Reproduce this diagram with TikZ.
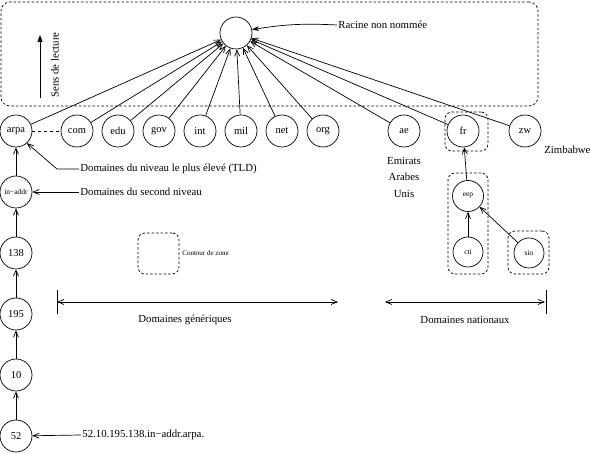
\documentclass[tikz,border=0pt]{standalone}
\usepackage{fontspec}
\setmainfont{Liberation Serif}
\usetikzlibrary{arrows.meta}
\begin{document}
\begin{tikzpicture}[x=1pt,y=-1pt,line width=0.7pt,
  dom/.style={circle,draw,minimum size=32pt,inner sep=0pt,font=\fontsize{10.5}{12}\selectfont},
  smalldom/.style={dom,font=\fontsize{7.5}{8}\selectfont},
  lbl/.style={inner sep=1pt,font=\fontsize{10.8}{13}\selectfont},
  tinylbl/.style={inner sep=1pt,font=\fontsize{7}{8}\selectfont},
  zone/.style={draw,dash pattern=on 2.5pt off 2pt,rounded corners=7pt,inner sep=0pt},
  tip/.style={-{Straight Barb[length=6pt,width=5pt]}},
  dim/.style={{Straight Barb[length=6pt,width=5pt]}-{Straight Barb[length=6pt,width=5pt]}}
]
\useasboundingbox (0,0) rectangle (590,454);
% top zone
\node[zone,minimum width=537pt,minimum height=104pt,rounded corners=9pt] (topz) at (269.5,54) {};
\node[dom] (root) at (236,33) {};
\node[lbl,anchor=west] (rlab) at (337,25) {Racine non nommée};
\draw[-{Stealth[length=7pt,width=5pt]}] (rlab.west) to[bend right=6] (root.12);
% sens de lecture
\coordinate (s1) at (40,98);
\coordinate (s2) at (40,35);
\draw[-{Triangle[length=7pt,width=5pt]}] (s1) -- (s2);
\node[lbl,rotate=90] (sens) at (55,65) {Sens de lecture};
% top-level domains
\node[dom] (arpa) at (16,131) {arpa};
\node[dom] (com) at (77,131) {com};
\node[dom] (edu) at (118,131) {edu};
\node[dom] (gov) at (159,131) {gov};
\node[dom] (int) at (200,131) {int};
\node[dom] (mil) at (241,131) {mil};
\node[dom] (net) at (282,131) {net};
\node[dom] (org) at (323,131) {org};
\node[dom] (ae) at (404,131) {ae};
\node[dom] (fr) at (463,131) {fr};
\node[dom] (zw) at (525,131) {zw};
\foreach \n in {arpa,com,edu,gov,int,mil,net,org,ae,fr,zw}
  \draw[tip] (\n) -- (root);
\draw[dash pattern=on 3pt off 3pt] (arpa) -- (com);
\node[zone,minimum width=43pt,minimum height=39pt] (frz) at (466.5,131.5) {};
\node[lbl,anchor=west] (zim) at (543,150) {Zimbabwe};
\node[lbl] (em) at (404,161) {Emirats};
\node[lbl] (ar) at (404,177) {Arabes};
\node[lbl] (un) at (404,194) {Unis};
% reverse chain
\node[smalldom] (inaddr) at (16,192) {in−addr};
\node[dom] (n138) at (16,253) {138};
\node[dom] (n195) at (16,314) {195};
\node[dom] (n10) at (16,375) {10};
\node[dom] (n52) at (16,436) {52};
\draw[tip] (inaddr) -- (arpa);
\draw[tip] (n138) -- (inaddr);
\draw[tip] (n195) -- (n138);
\draw[tip] (n10) -- (n195);
\draw[tip] (n52) -- (n10);
% labels with pointers
\node[lbl,anchor=west] (tld) at (79,169) {Domaines du niveau le plus élevé (TLD)};
\coordinate (tldk) at (57,169);
\draw[tip] (tld.west) -- (tldk) -- (arpa.-48);
\node[lbl,anchor=west] (sec) at (79,192) {Domaines du second niveau};
\draw[tip] (sec.west) -- (inaddr);
\node[lbl,anchor=west] (addr) at (81,435) {52.10.195.138.in−addr.arpa.};
\draw[tip] (addr.west) -- (n52);
% zone legend
\node[zone,minimum width=41pt,minimum height=41pt] (cz) at (158.5,253.5) {};
\node[tinylbl,anchor=west] (czl) at (181,253) {Contour de zone};
% national subtree
\node[smalldom,minimum size=31pt] (eep) at (468,196) {eep};
\node[smalldom,minimum size=30pt] (cti) at (468,252) {cti};
\node[smalldom,minimum size=30pt] (sio) at (529,253) {sio};
\node[zone,minimum width=40pt,minimum height=101pt] (eepz) at (468,223.5) {};
\node[zone,minimum width=41pt,minimum height=43pt] (sioz) at (528.5,252.5) {};
\draw[tip] (eep) -- (fr);
\draw[tip] (cti) -- (eep);
\draw[tip] (sio) -- (eep);
% dimension lines
\coordinate (g1) at (57,302);
\coordinate (g2) at (338,302);
\coordinate (g1a) at (57,290);
\coordinate (g1b) at (57,314);
\draw[dim] (g1) -- (g2);
\draw (g1a) -- (g1b);
\node[lbl] (gen) at (185,320) {Domaines génériques};
\coordinate (d1) at (385,302);
\coordinate (d2) at (545,302);
\coordinate (d2a) at (546,290);
\coordinate (d2b) at (546,314);
\draw[dim] (d1) -- (d2);
\draw (d2a) -- (d2b);
\node[lbl] (nat) at (465,320) {Domaines nationaux};
\end{tikzpicture}
\end{document}
